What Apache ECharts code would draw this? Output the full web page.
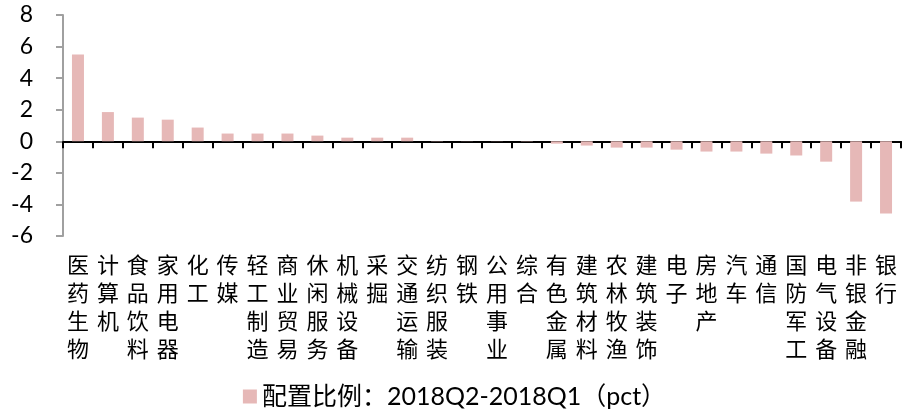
<!DOCTYPE html>
<html>
<head>
<meta charset="utf-8">
<script src="https://cdn.jsdelivr.net/npm/echarts@6/dist/echarts.min.js"></script>
<style>
  html, body { margin: 0; padding: 0; background: #fff; }
  #main { width: 909px; height: 414px; }
</style>
</head>
<body>
<div id="main"></div>
<script>
var categories = ['医药生物', '计算机', '食品饮料', '家用电器', '化工', '传媒', '轻工制造', '商业贸易',
  '休闲服务', '机械设备', '采掘', '交通运输', '纺织服装', '钢铁', '公用事业', '综合',
  '有色金属', '建筑材料', '农林牧渔', '建筑装饰', '电子', '房地产', '汽车', '通信',
  '国防军工', '电气设备', '非银金融', '银行'];
var values = [5.5, 1.85, 1.5, 1.37, 0.87, 0.49, 0.49, 0.49,
  0.36, 0.23, 0.23, 0.23, 0.02, 0.01, -0.01, -0.02,
  -0.15, -0.27, -0.4, -0.4, -0.53, -0.65, -0.65, -0.78,
  -0.9, -1.29, -3.82, -4.58];
var seriesName = '配置比例：2018Q2-2018Q1（pct）';

var myChart = echarts.init(document.getElementById('main'));
var fontLat = 'Lato, "Open Sans", sans-serif';

var option = {
  animation: false,
  legend: {
    bottom: 0,
    left: 'center',
    itemWidth: 14,
    itemHeight: 14,
    itemGap: 6,
    icon: 'rect',
    textStyle: { fontSize: 25, color: '#000', fontFamily: fontLat + ', "Noto Sans CJK SC"' },
    data: [seriesName]
  },
  grid: { left: 63, right: 8, top: 15, bottom: 178, containLabel: false },
  xAxis: [
    {
      type: 'category',
      data: categories,
      axisLine: { onZero: true, lineStyle: { color: '#000', width: 2 } },
      axisTick: { show: true, interval: 0, length: 7, lineStyle: { color: '#000', width: 2 } },
      axisLabel: { show: false }
    },
    {
      type: 'category',
      data: categories,
      position: 'bottom',
      axisLine: { show: false },
      axisTick: { show: false },
      axisLabel: {
        margin: 15,
        interval: 0,
        fontSize: 22,
        lineHeight: 28,
        color: '#000',
        fontFamily: '"Noto Sans CJK SC"',
        formatter: function (v) { return v.split('').join('\n'); }
      }
    }
  ],
  yAxis: {
    type: 'value',
    min: -6,
    max: 8,
    interval: 2,
    splitLine: { show: false },
    axisLine: { show: true, lineStyle: { color: '#a0a0a0', width: 2 } },
    axisTick: { show: true, length: 7, lineStyle: { color: '#a0a0a0', width: 2 } },
    axisLabel: { fontSize: 23, color: '#000', margin: 30, fontFamily: fontLat }
  },
  series: [
    {
      name: seriesName,
      type: 'bar',
      xAxisIndex: 0,
      barWidth: 12,
      itemStyle: { color: '#E6B8B7' },
      data: values
    }
  ]
};

myChart.setOption(option);
</script>
</body>
</html>
